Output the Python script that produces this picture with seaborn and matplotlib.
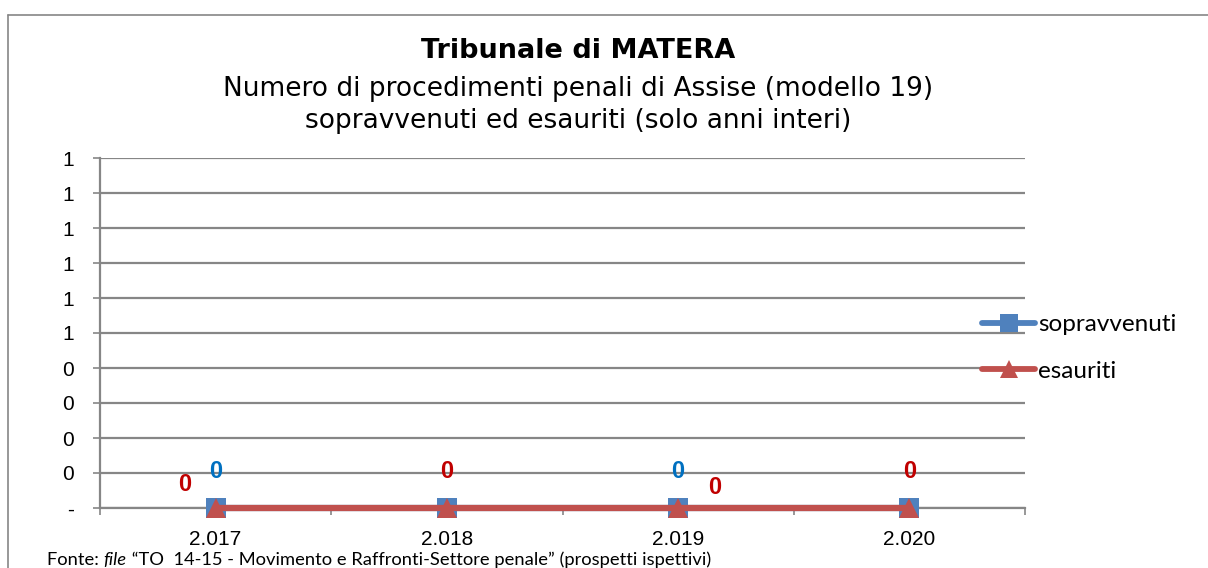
import pandas as pd
import matplotlib
matplotlib.use('Agg')
import matplotlib.pyplot as plt
import seaborn as sns
from matplotlib.ticker import MultipleLocator, FixedLocator, FuncFormatter
from matplotlib.lines import Line2D

anni = ['2.017', '2.018', '2.019', '2.020']
sopravvenuti = [0, 0, 0, 0]
esauriti = [0, 0, 0, 0]
serie = ['sopravvenuti', 'esauriti']

# long form table for seaborn
data = pd.DataFrame({
    'anno': anni * 2,
    'valore': sopravvenuti + esauriti,
    'serie': ['sopravvenuti'] * len(anni) + ['esauriti'] * len(anni),
})

sns.set_style('white')
plt.rcParams['font.family'] = ['Liberation Sans', 'DejaVu Sans']
plt.rcParams['text.color'] = 'black'
plt.rcParams['xtick.labelcolor'] = 'black'
plt.rcParams['ytick.labelcolor'] = 'black'

fig = plt.figure(figsize=(12.08, 5.68), dpi=100)
ax = fig.add_axes([100 / 1208, 1 - 508 / 568, 925 / 1208, 350 / 568])

colori = {'sopravvenuti': '#4F81BD', 'esauriti': '#C0504D'}
sns.lineplot(data=data, x='anno', y='valore', hue='serie', style='serie',
             markers={'sopravvenuti': 's', 'esauriti': '^'}, dashes=False,
             palette=colori, linewidth=4.5, markersize=14.5, markeredgewidth=0,
             ax=ax, legend=False, zorder=3, clip_on=False)

ax.set_xlim(-0.5, len(anni) - 0.5)
ax.set_ylim(0, 1)
ax.yaxis.set_major_locator(MultipleLocator(0.1))


def fmt_y(v, pos):
    v = round(v, 6)
    if v == 0:
        return '-'
    return str(int(v + 0.5))


ax.yaxis.set_major_formatter(FuncFormatter(fmt_y))
ax.grid(axis='y', color='#868686', linewidth=1.6)
ax.grid(axis='x', visible=False)
ax.set_xlabel('')
ax.set_ylabel('')
for s in ['top', 'right']:
    ax.spines[s].set_visible(False)
for s in ['left', 'bottom']:
    ax.spines[s].set_color('#868686')
    ax.spines[s].set_linewidth(1.6)

ax.xaxis.set_minor_locator(FixedLocator([i - 0.5 for i in range(len(anni) + 1)]))
ax.tick_params(axis='x', which='major', length=0, pad=16, labelsize=15)
ax.tick_params(axis='x', which='minor', length=5, width=1.2, color='#868686', direction='out', bottom=True)
ax.tick_params(axis='y', length=5, width=1.2, color='#868686', direction='out', left=True, pad=14, labelsize=15)

# data labels
for i, v in enumerate(sopravvenuti):
    if i in (0, 2):
        ax.annotate(str(v), (i, v), xytext=(0, 26), textcoords='offset points',
                    ha='center', va='center', color='#0070C0', fontsize=17,
                    fontweight='bold')
offs_esa = [(-22, 17), (0, 26), (26, 15), (0, 26)]
for i, v in enumerate(esauriti):
    ax.annotate(str(v), (i, v), xytext=offs_esa[i], textcoords='offset points',
                ha='center', va='center', color='#C00000', fontsize=17,
                fontweight='bold')

# legend
handles = [Line2D([], [], color=colori['sopravvenuti'], marker='s', linewidth=4.2,
                  markersize=13, markeredgewidth=0, solid_capstyle='round'),
           Line2D([], [], color=colori['esauriti'], marker='^', linewidth=4.2,
                  markersize=13, markeredgewidth=0, solid_capstyle='round')]
fig.legend(handles, serie, loc='center left', bbox_to_anchor=(982 / 1208, 1 - 348 / 568),
           frameon=False, prop={'family': 'Lato', 'size': 17.5}, handlelength=2.2,
           handletextpad=0.1, labelspacing=1.04, borderaxespad=0, borderpad=0)

# titles
fig.text(578 / 1208, 1 - 51 / 568, 'Tribunale di MATERA', ha='center', va='center',
         fontsize=19.5, fontweight='bold', family='DejaVu Sans')
fig.text(578 / 1208, 1 - 89 / 568, 'Numero di procedimenti penali di Assise (modello 19)',
         ha='center', va='center', fontsize=19, family='DejaVu Sans')
fig.text(578 / 1208, 1 - 121 / 568, 'sopravvenuti ed esauriti (solo anni interi)',
         ha='center', va='center', fontsize=19, family='DejaVu Sans')

# outer frame of the chart area
fig.add_artist(Line2D([8 / 1208, 1.0], [1 - 15 / 568, 1 - 15 / 568], color='#868686', linewidth=1.2))
fig.add_artist(Line2D([8 / 1208, 8 / 1208], [0, 1 - 15 / 568], color='#868686', linewidth=1.2))

# footer with italic "file"
fig.canvas.draw()
renderer = fig.canvas.get_renderer()
x = 47 / 1208
y = 1 - 560 / 568
parti = [('Fonte: ', 'normal'), ('file', 'italic'),
         (' \u201cTO  14-15 - Movimento e Raffronti-Settore penale\u201d (prospetti ispettivi)', 'normal')]
for testo, stile in parti:
    t = fig.text(x, y, testo, ha='left', va='center', fontsize=13.2, style=stile, family='Lato')
    bb = t.get_window_extent(renderer)
    x += bb.width / fig.bbox.width

fig.savefig('out.png', dpi=100)
